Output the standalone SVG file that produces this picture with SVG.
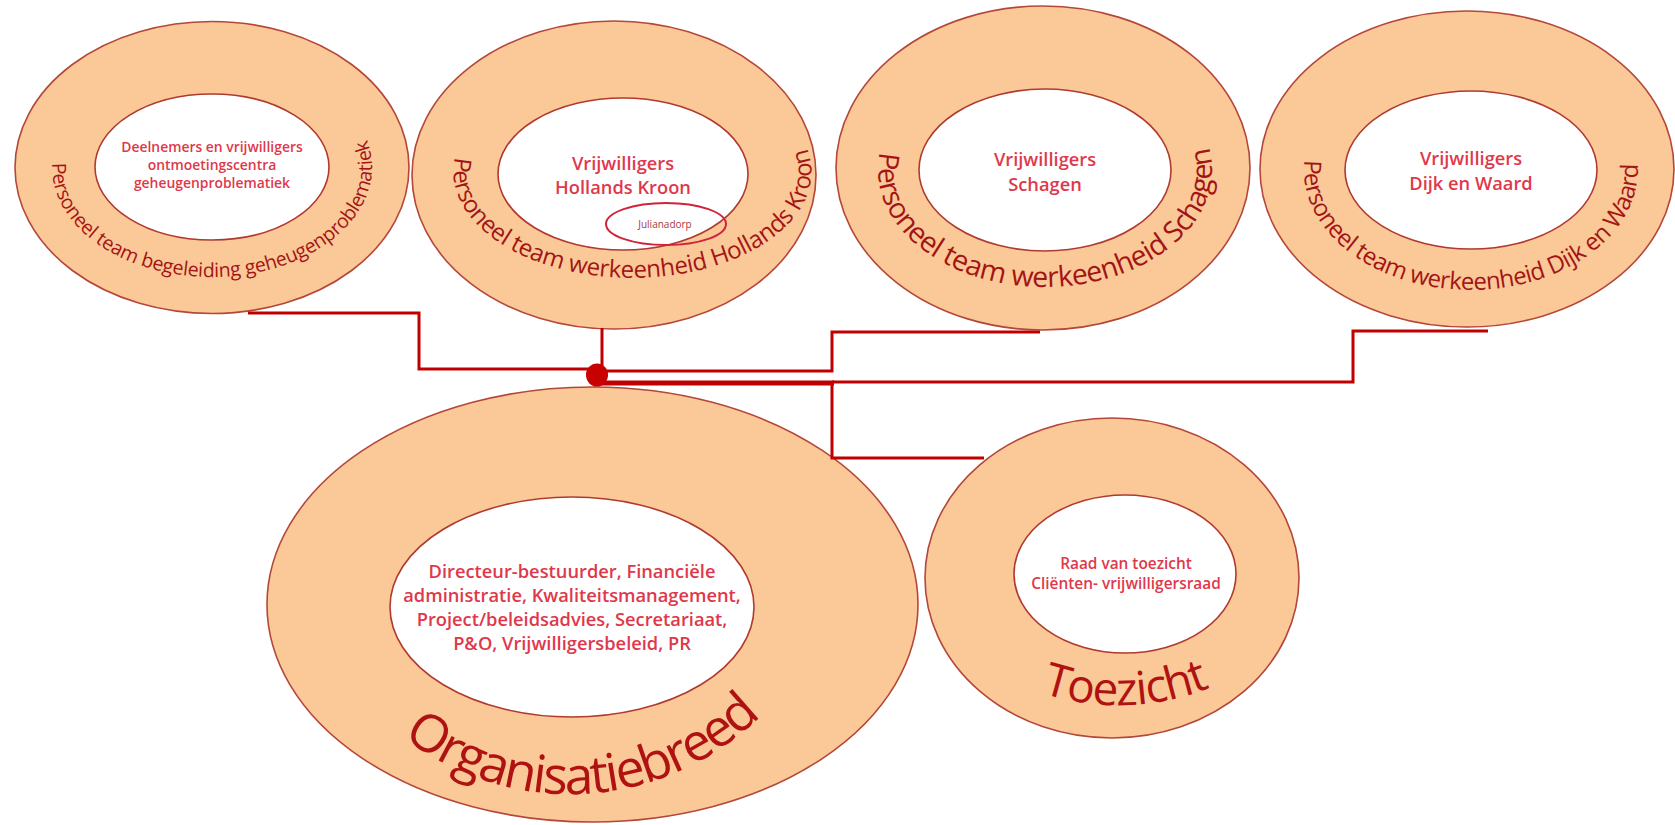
<svg xmlns="http://www.w3.org/2000/svg" width="1675" height="825" viewBox="0 0 1675 825">
<defs>
<style>
.outer{fill:#fbc898;stroke:#b5473a;stroke-width:1.6}
.inner{fill:#ffffff;stroke:#b03a30;stroke-width:1.6}
.in{font-family:"Open Sans","Liberation Sans",sans-serif;font-weight:600;fill:#e0384b;text-anchor:middle}
.ring{font-family:"Open Sans","Liberation Sans",sans-serif;fill:#a31515}
.big{font-family:"Open Sans","Liberation Sans",sans-serif;fill:#b01212}
.con{fill:none;stroke:#c00000;stroke-width:3;stroke-linejoin:miter}
</style>
<path id="p1" d="M52.1,163 A160,110 0 1 0 321.8,87"/>
<path id="p2" d="M455.2,157 A179,106 0 1 0 754,94"/>
<path id="p3" d="M880,152 A167,117 0 1 0 1166.9,90"/>
<path id="p4" d="M1304.4,160 A167,120 0 1 0 1595.5,90"/>
<path id="p5" d="M403,737 A272,272 0 0 0 815,640"/>
<path id="p6" d="M1042,693 A244,244 0 0 0 1245,670"/>
</defs>
<rect width="1675" height="825" fill="#ffffff"/>

<g id="node-geheugen">
<ellipse class="outer" cx="212" cy="167.5" rx="197" ry="146"/>
<ellipse class="inner" cx="212" cy="167" rx="117" ry="73"/>
<text class="in" font-size="13.9"><tspan x="212" y="152">Deelnemers en vrijwilligers</tspan><tspan x="212" y="170">ontmoetingscentra</tspan><tspan x="212" y="188">geheugenproblematiek</tspan></text>
<text class="ring" font-size="19.5" letter-spacing="-0.2"><textPath href="#p1">Personeel team begeleiding geheugenproblematiek</textPath></text>
</g>

<g id="node-hollands-kroon">
<ellipse class="outer" cx="614" cy="175" rx="202" ry="154"/>
<ellipse class="inner" cx="623" cy="174" rx="125" ry="76"/>
<text class="in" font-size="18.3"><tspan x="623" y="170">Vrijwilligers</tspan><tspan x="623" y="194">Hollands Kroon</tspan></text>
<ellipse cx="666" cy="224" rx="60" ry="21" fill="none" stroke="#d0243c" stroke-width="2"/>
<text class="in" font-size="10" x="665" y="228" style="fill:#a83a3a;font-weight:400">Julianadorp</text>
<text class="ring" font-size="24" letter-spacing="-0.3"><textPath href="#p2">Personeel team werkeenheid Hollands Kroon</textPath></text>
</g>

<g id="node-schagen">
<ellipse class="outer" cx="1043" cy="168" rx="207" ry="162"/>
<ellipse class="inner" cx="1045" cy="170" rx="126" ry="81"/>
<text class="in" font-size="18.3"><tspan x="1045" y="166">Vrijwilligers</tspan><tspan x="1045" y="191">Schagen</tspan></text>
<text class="ring" font-size="28.5" letter-spacing="-0.5"><textPath href="#p3">Personeel team werkeenheid Schagen</textPath></text>
</g>

<g id="node-dijk-en-waard">
<ellipse class="outer" cx="1467" cy="169" rx="207" ry="158"/>
<ellipse class="inner" cx="1471" cy="170" rx="126" ry="79"/>
<text class="in" font-size="18.3"><tspan x="1471" y="165">Vrijwilligers</tspan><tspan x="1471" y="190">Dijk en Waard</tspan></text>
<text class="ring" font-size="24" letter-spacing="-0.5"><textPath href="#p4">Personeel team werkeenheid Dijk en Waard</textPath></text>
</g>

<g id="node-organisatiebreed">
<ellipse class="outer" cx="592.5" cy="604.5" rx="325.5" ry="217.5"/>
<ellipse class="inner" cx="572" cy="607" rx="182" ry="110"/>
<text class="in" font-size="18.3"><tspan x="572" y="578">Directeur-bestuurder, Financiële</tspan><tspan x="572" y="602">administratie, Kwaliteitsmanagement,</tspan><tspan x="572" y="626">Project/beleidsadvies, Secretariaat,</tspan><tspan x="572" y="650">P&amp;O, Vrijwilligersbeleid, PR</tspan></text>
<text class="big" font-size="52" letter-spacing="-2"><textPath href="#p5">Organisatiebreed</textPath></text>
</g>

<g id="node-toezicht">
<ellipse class="outer" cx="1112" cy="578" rx="187" ry="160"/>
<ellipse class="inner" cx="1125" cy="574" rx="111" ry="79"/>
<text class="in" font-size="15.4"><tspan x="1126" y="569">Raad van toezicht</tspan><tspan x="1126" y="589">Cliënten- vrijwilligersraad</tspan></text>
<text class="big" font-size="46" letter-spacing="-1"><textPath href="#p6">Toezicht</textPath></text>
</g>

<g id="connectors">
<polyline class="con" points="248,313 419,313 419,369 598,369"/>
<polyline class="con" points="602,328 602,372"/>
<polyline class="con" points="598,371 832,371 832,332 1040,332"/>
<polyline class="con" points="832,382 1353,382 1353,331 1488,331"/>
<polyline class="con" points="832,383 832,458 984,458"/>
<line x1="598" y1="383" x2="834" y2="383" stroke="#c00000" stroke-width="5"/>
<ellipse cx="597" cy="375" rx="11" ry="11.5" fill="#c80000"/>
</g>
</svg>
